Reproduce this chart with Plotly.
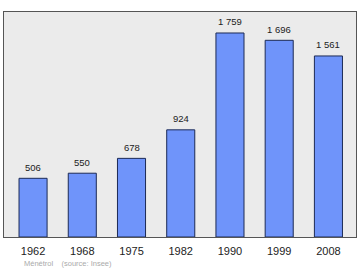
import plotly.graph_objects as go

years = ["1962", "1968", "1975", "1982", "1990", "1999", "2008"]
population = [506, 550, 678, 924, 1759, 1696, 1561]
labels = [f"{v:,}".replace(",", " ") for v in population]

fig = go.Figure(go.Bar(
    x=list(range(len(years))),
    y=population,
    width=0.57,
    marker=dict(color="#6f94fa", line=dict(color="#1c2a55", width=1)),
    hoverinfo="skip",
))

annotations = [dict(
    x=i, y=v, text=t, xref="x", yref="y",
    yanchor="middle", yshift=11, showarrow=False,
    font=dict(size=9.5, color="#222222"),
) for i, (v, t) in enumerate(zip(population, labels))]

annotations.append(dict(
    text="Ménétrol    (source: Insee)",
    xref="paper", yref="paper",
    x=(22 - 4) / 352, y=-(263.5 - 237) / 225,
    xanchor="left", yanchor="middle",
    showarrow=False,
    font=dict(size=7.5, color="#aaaaaa"),
))

fig.update_layout(
    width=360, height=270,
    margin=dict(l=4, r=4, t=12, b=33),
    paper_bgcolor="white",
    plot_bgcolor="#ebebeb",
    showlegend=False,
    font=dict(family="Liberation Sans, Arial", color="#222222"),
    xaxis=dict(
        range=[-0.59, 6.56],
        tickmode="array",
        tickvals=list(range(len(years))),
        ticktext=years,
        tickfont=dict(size=11, color="#222222"),
        ticklabelstandoff=4,
        showgrid=False, zeroline=False,
        showline=True, linecolor="#555555", linewidth=1, mirror=True,
        ticks="",
    ),
    yaxis=dict(
        range=[0, 1940],
        showticklabels=False, showgrid=False, zeroline=False,
        showline=True, linecolor="#555555", linewidth=1, mirror=True,
        ticks="",
    ),
    annotations=annotations,
)

fig.write_html("out.html")
